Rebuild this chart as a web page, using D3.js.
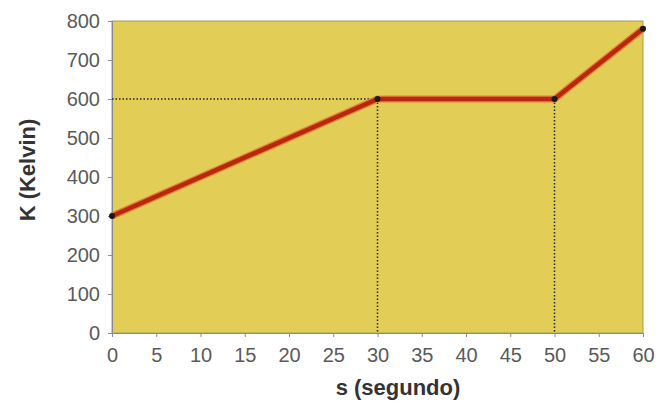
<!DOCTYPE html>
<html><head><meta charset="utf-8">
<script src="https://cdn.jsdelivr.net/npm/d3@7"></script>
<style>body{margin:0;background:#fff;}text{font-family:"Liberation Sans",Arial,sans-serif;}</style>
</head><body><svg id="c" width="671" height="404"></svg>
<script>
const xTicks = [0,5,10,15,20,25,30,35,40,45,50,55,60];
const yTicks = [0,100,200,300,400,500,600,700,800];
const times = [0,30,50,60];
const temps = [300,600,600,780];
const guideTimes = [30,50];
const guideTemp = 600;

const svg = d3.select("#c");
const m = {l:112, r:643, t:21, b:333};
const x = d3.scaleLinear().domain([0,60]).range([m.l,m.r]);
const y = d3.scaleLinear().domain([0,800]).range([m.b,m.t]);

svg.append("rect").attr("x",x(0)).attr("y",y(800)).attr("width",x(60)-x(0)).attr("height",y(0)-y(800))
  .attr("fill","#e2cd56").attr("stroke","#a89a5a").attr("stroke-width",1);

const xa = svg.append("g").attr("transform",`translate(0,${y(0)})`)
  .call(d3.axisBottom(x).tickValues(xTicks).tickSize(4).tickPadding(11));
const ya = svg.append("g").attr("transform",`translate(${x(0)},0)`)
  .call(d3.axisLeft(y).tickValues(yTicks).tickSize(4).tickPadding(8));
[xa,ya].forEach(a=>{
  a.selectAll("path").attr("stroke","#8a8a8a");
  a.selectAll("line").attr("stroke","#8a8a8a");
  a.selectAll("text").attr("fill","#5a5a5a").attr("font-size",20).attr("font-family","Liberation Sans, Arial, sans-serif");
});

// guides
svg.append("line").attr("x1",x(0)).attr("x2",x(guideTimes[0])).attr("y1",y(guideTemp)).attr("y2",y(guideTemp))
  .attr("stroke","#222").attr("stroke-width",1.5).attr("stroke-dasharray","1.5,2");
guideTimes.forEach(t=>{
  svg.append("line").attr("x1",x(t)).attr("x2",x(t)).attr("y1",y(guideTemp)).attr("y2",y(0))
    .attr("stroke","#222").attr("stroke-width",1.5).attr("stroke-dasharray","1.5,2");
});

const pts = times.map((t,i)=>[t,temps[i]]);
const line = d3.line().x(d=>x(d[0])).y(d=>y(d[1]));
svg.append("path").attr("d",line(pts)).attr("fill","none").attr("stroke","#e8803a").attr("stroke-width",7).attr("stroke-linejoin","round");
svg.append("path").attr("d",line(pts)).attr("fill","none").attr("stroke","#b8280c").attr("stroke-width",4.5).attr("stroke-linejoin","round");
svg.selectAll("circle.p").data(pts).enter().append("circle").attr("cx",d=>x(d[0])).attr("cy",d=>y(d[1])).attr("r",3).attr("fill","#1a1a1a");

svg.append("text").attr("x",398).attr("y",395).attr("text-anchor","middle")
  .attr("font-size",22).attr("font-weight","bold").attr("fill","#333").text("s (segundo)");
svg.append("text").attr("transform",`translate(35,170) rotate(-90)`).attr("text-anchor","middle")
  .attr("font-size",22).attr("font-weight","bold").attr("fill","#333").text("K (Kelvin)");
</script></body></html>
